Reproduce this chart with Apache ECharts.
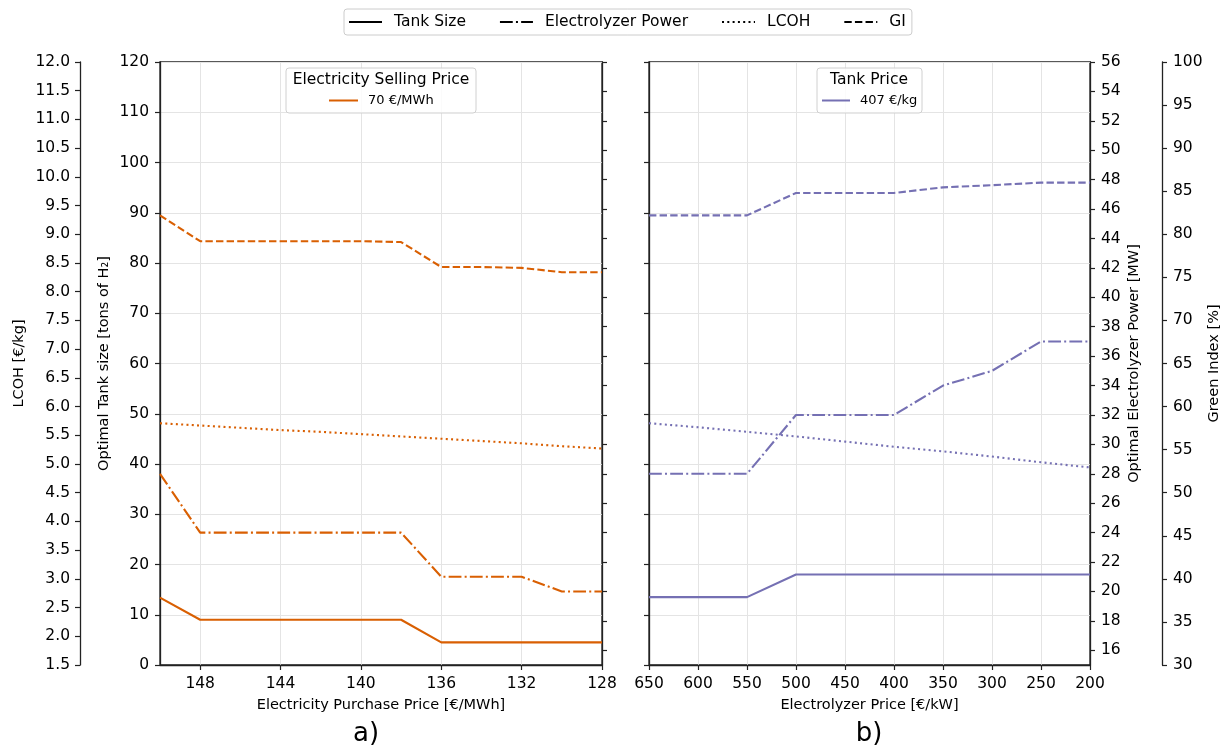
<!DOCTYPE html>
<html>
<head>
<meta charset="utf-8">
<title>echarts</title>
<script src="https://cdn.jsdelivr.net/npm/echarts@6/dist/echarts.min.js"></script>
<style>
  html, body { height: 100%; width: 100%; margin: 0; padding: 0; overflow: hidden; background: #fff; }
  #main { width: 1225px; height: 746px; }
</style>
</head>
<body>
<div id="main"></div>
<script>
// a) electricity purchase price sweep, selling price 70 €/MWh
var purchasePrice = [150, 148, 146, 144, 142, 140, 138, 136, 134, 132, 130, 128];
var tankSizeA     = [13.4, 9, 9, 9, 9, 9, 9, 4.5, 4.5, 4.5, 4.5, 4.5];
var elecPowerA    = [28, 24, 24, 24, 24, 24, 24, 21, 21, 21, 20, 20];
var lcohA         = [5.71, 5.67, 5.63, 5.59, 5.56, 5.52, 5.48, 5.44, 5.40, 5.36, 5.31, 5.27];
var giA           = [82.2, 79.2, 79.2, 79.2, 79.2, 79.2, 79.1, 76.2, 76.2, 76.1, 75.6, 75.6];

// b) electrolyzer price sweep, tank price 407 €/kg
var electrolyzerPrice = [650, 600, 550, 500, 450, 400, 350, 300, 250, 200];
var tankSizeB     = [13.5, 13.5, 13.5, 18, 18, 18, 18, 18, 18, 18];
var elecPowerB    = [28, 28, 28, 32, 32, 32, 34, 35, 37, 37];
var lcohB         = [5.71, 5.64, 5.56, 5.48, 5.39, 5.30, 5.22, 5.13, 5.03, 4.94];
var giB           = [82.2, 82.2, 82.2, 84.8, 84.8, 84.8, 85.45, 85.7, 86, 86];

// tick labels
var purchaseTicks = [148, 144, 140, 136, 132, 128];
var elecTicks = [16, 18, 20, 22, 24, 26, 28, 30, 32, 34, 36, 38, 40, 42, 44, 46, 48, 50, 52, 54, 56];

var FONT = 'DejaVu Sans';
var AXIS_COLOR = '#222';
var GRID_COLOR = '#e4e4e4';
var ORANGE = '#d95f02';
var PURPLE = '#7570b3';
var DASHDOT = [12.8, 3.2, 2, 3.2];
var DOTTED = [2, 3.3];
var DASHED = [7.4, 3.2];
var TICK_FS = 15.5;

function yAxisDef(p) {
  var ax = {
    type: 'value', gridIndex: p.grid, position: p.pos, offset: p.offset || 0,
    min: p.min, max: p.max, show: p.show !== false,
    axisLine: { show: true, onZero: false, lineStyle: { color: AXIS_COLOR, width: 1.3 } },
    axisTick: { show: true, length: 5, lineStyle: { color: AXIS_COLOR, width: 1.2 } },
    axisLabel: { show: !!p.labels, color: '#000', fontSize: TICK_FS, fontFamily: FONT, margin: p.margin || 10 },
    splitLine: { show: !!p.split, lineStyle: { color: GRID_COLOR, width: 1 } },
    name: p.name || '', nameLocation: 'middle', nameRotate: 90, nameGap: p.nameGap || 0,
    nameTextStyle: { color: '#000', fontSize: 14.5, fontFamily: FONT }
  };
  if (p.formatter) ax.axisLabel.formatter = p.formatter;
  if (p.interval) ax.interval = p.interval;
  if (p.ticks) { ax.axisTick.customValues = p.ticks; ax.axisLabel.customValues = p.ticks; }
  return ax;
}

function xAxisDef(p) {
  var ax = {
    type: 'value', gridIndex: p.grid, position: 'bottom', inverse: true,
    min: p.min, max: p.max,
    axisLine: { show: true, onZero: false, lineStyle: { color: AXIS_COLOR, width: 1.3 } },
    axisTick: { show: true, length: 5, lineStyle: { color: AXIS_COLOR, width: 1.2 } },
    axisLabel: { color: '#000', fontSize: TICK_FS, fontFamily: FONT, margin: 11 },
    splitLine: { show: true, lineStyle: { color: GRID_COLOR, width: 1 } },
    name: p.name, nameLocation: 'middle', nameGap: 33,
    nameTextStyle: { color: '#000', fontSize: 14.5, fontFamily: FONT }
  };
  if (p.interval) ax.interval = p.interval;
  if (p.ticks) { ax.axisTick.customValues = p.ticks; ax.axisLabel.customValues = p.ticks; }
  return ax;
}

function lineSeries(name, xs, ys, grid, yIdx, color, dash) {
  return {
    type: 'line', name: name, xAxisIndex: grid, yAxisIndex: yIdx,
    data: xs.map(function (x, i) { return [x, ys[i]]; }),
    symbol: 'none', showSymbol: false, silent: true, z: 3,
    lineStyle: { color: color, width: 2.1, type: dash },
    itemStyle: { color: color }
  };
}

function dummy(name, dash) {
  return { type: 'line', name: name, xAxisIndex: 0, yAxisIndex: 0, data: [], symbol: 'none',
    lineStyle: { color: '#000', width: 2.1, type: dash }, itemStyle: { color: '#000' } };
}

var myChart = echarts.init(document.getElementById('main'));

myChart.setOption({
  animation: false,
  textStyle: { fontFamily: FONT, color: '#000' },
  grid: [
    { left: 160, top: 62, width: 442, height: 603, show: true, borderColor: AXIS_COLOR, borderWidth: 1.3, backgroundColor: 'transparent' },
    { left: 649, top: 62, width: 441, height: 603, show: true, borderColor: AXIS_COLOR, borderWidth: 1.3, backgroundColor: 'transparent' }
  ],
  xAxis: [
    xAxisDef({ grid: 0, min: 128, max: 150, ticks: purchaseTicks, name: 'Electricity Purchase Price [€/MWh]' }),
    xAxisDef({ grid: 1, min: 200, max: 650, interval: 50, name: 'Electrolyzer Price [€/kW]' })
  ],
  yAxis: [
    yAxisDef({ grid: 0, pos: 'left', min: 0, max: 120, interval: 10, labels: true, split: true, margin: 11,
      name: 'Optimal Tank size [tons of H₂]', nameGap: 48 }),
    yAxisDef({ grid: 0, pos: 'left', offset: 80, min: 1.5, max: 12, interval: 0.5, labels: true,
      formatter: function (v) { return v.toFixed(1); }, name: 'LCOH [€/kg]', nameGap: 53 }),
    yAxisDef({ grid: 0, pos: 'right', min: 15, max: 56, ticks: elecTicks }),
    yAxisDef({ grid: 0, pos: 'right', min: 30, max: 100, interval: 5, show: false }),
    yAxisDef({ grid: 1, pos: 'left', min: 0, max: 120, interval: 10, split: true }),
    yAxisDef({ grid: 1, pos: 'left', min: 1.5, max: 12, interval: 0.5, show: false }),
    yAxisDef({ grid: 1, pos: 'right', min: 15, max: 56, ticks: elecTicks, labels: true, margin: 11,
      name: 'Optimal Electrolyzer Power [MW]', nameGap: 37 }),
    yAxisDef({ grid: 1, pos: 'right', offset: 72, min: 30, max: 100, interval: 5, labels: true, margin: 11,
      name: 'Green Index [%]', nameGap: 45 })
  ],
  legend: [
    {
      data: ['Tank Size', 'Electrolyzer Power', 'LCOH', 'GI'],
      left: 344, top: 9, padding: [5, 6, 5, 4], itemGap: 33, itemWidth: 33, itemHeight: 14,
      borderColor: '#cccccc', borderWidth: 1, borderRadius: 3, selectedMode: false,
      itemStyle: { opacity: 0 },
      textStyle: { fontSize: 15.5, fontFamily: FONT, color: '#000', padding: [0, 0, 0, 7] }
    },
    {
      data: ['70 €/MWh'], left: 328, top: 94, padding: 0, itemWidth: 29, itemHeight: 12,
      selectedMode: false, z: 10, itemStyle: { opacity: 0 },
      textStyle: { fontSize: 13, fontFamily: FONT, color: '#000', padding: [0, 0, 0, 5] }
    },
    {
      data: ['407 €/kg'], left: 821, top: 94, padding: 0, itemWidth: 28, itemHeight: 12,
      selectedMode: false, z: 10, itemStyle: { opacity: 0 },
      textStyle: { fontSize: 13, fontFamily: FONT, color: '#000', padding: [0, 0, 0, 5] }
    }
  ],
  graphic: [
    { type: 'rect', z: 5, shape: { x: 286, y: 68, width: 190, height: 45, r: 3 },
      style: { fill: 'rgba(255,255,255,0.85)', stroke: '#d0d0d0', lineWidth: 1 } },
    { type: 'text', z: 6, x: 381, y: 80,
      style: { text: 'Electricity Selling Price', fill: '#000', font: '15.5px "DejaVu Sans"', align: 'center', verticalAlign: 'middle' } },
    { type: 'rect', z: 5, shape: { x: 817, y: 68, width: 105, height: 45, r: 3 },
      style: { fill: 'rgba(255,255,255,0.85)', stroke: '#d0d0d0', lineWidth: 1 } },
    { type: 'text', z: 6, x: 869, y: 80,
      style: { text: 'Tank Price', fill: '#000', font: '15.5px "DejaVu Sans"', align: 'center', verticalAlign: 'middle' } },
    { type: 'text', x: 366, y: 734,
      style: { text: 'a)', fill: '#000', font: '26px "DejaVu Sans"', align: 'center', verticalAlign: 'middle' } },
    { type: 'text', x: 869, y: 734,
      style: { text: 'b)', fill: '#000', font: '26px "DejaVu Sans"', align: 'center', verticalAlign: 'middle' } }
  ],
  series: [
    dummy('Tank Size', 'solid'),
    dummy('Electrolyzer Power', DASHDOT),
    dummy('LCOH', DOTTED),
    dummy('GI', DASHED),
    lineSeries('70 €/MWh', purchasePrice, tankSizeA, 0, 0, ORANGE, 'solid'),
    lineSeries('a-power', purchasePrice, elecPowerA, 0, 2, ORANGE, DASHDOT),
    lineSeries('a-lcoh', purchasePrice, lcohA, 0, 1, ORANGE, DOTTED),
    lineSeries('a-gi', purchasePrice, giA, 0, 3, ORANGE, DASHED),
    lineSeries('407 €/kg', electrolyzerPrice, tankSizeB, 1, 4, PURPLE, 'solid'),
    lineSeries('b-power', electrolyzerPrice, elecPowerB, 1, 6, PURPLE, DASHDOT),
    lineSeries('b-lcoh', electrolyzerPrice, lcohB, 1, 5, PURPLE, DOTTED),
    lineSeries('b-gi', electrolyzerPrice, giB, 1, 7, PURPLE, DASHED)
  ]
});
</script>
</body>
</html>
